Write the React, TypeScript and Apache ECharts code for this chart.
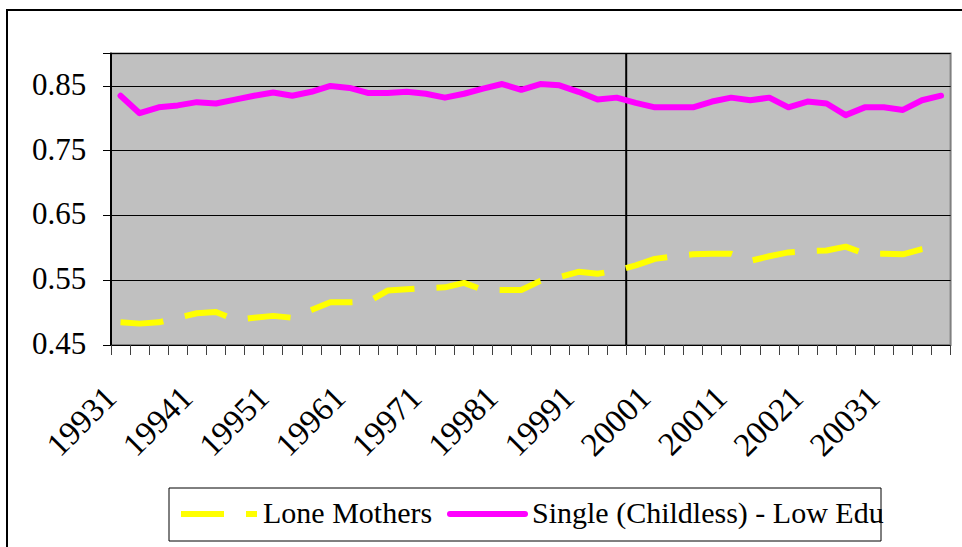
import React, { useEffect, useRef } from "react";
import * as echarts from "echarts";

const years = [1993, 1994, 1995, 1996, 1997, 1998, 1999, 2000, 2001, 2002, 2003];
const quarters = [1, 2, 3, 4];
const categories: string[] = years.flatMap((y) => quarters.map((q) => `${y}${q}`));
const xTickLabels: string[] = categories.filter((_, i) => i % 4 === 0);

const loneMothers = [
  0.485, 0.483, 0.485, 0.492, 0.499, 0.501, 0.489, 0.492, 0.495, 0.492, 0.504,
  0.516, 0.516, 0.517, 0.534, 0.536, 0.538, 0.539, 0.546, 0.535, 0.535, 0.535,
  0.549, 0.555, 0.563, 0.560, 0.565, 0.573, 0.583, 0.587, 0.590, 0.591, 0.591,
  0.580, 0.587, 0.593, 0.595, 0.596, 0.602, 0.591, 0.591, 0.590, 0.598, 0.603,
];

const singleLowEdu = [
  0.835, 0.808, 0.817, 0.820, 0.825, 0.823, 0.829, 0.835, 0.840, 0.835, 0.841,
  0.850, 0.847, 0.839, 0.839, 0.841, 0.838, 0.832, 0.838, 0.846, 0.853, 0.844,
  0.853, 0.851, 0.841, 0.829, 0.832, 0.824, 0.817, 0.817, 0.817, 0.826, 0.832,
  0.828, 0.832, 0.817, 0.826, 0.823, 0.805, 0.817, 0.817, 0.813, 0.828, 0.835,
];

const yTickLabels = ["0.45", "0.55", "0.65", "0.75", "0.85"];
const yTicks = { min: 0.45, max: 0.9, interval: 0.1 };
const axisCrossAt = 27; // value axis crosses between 19993 and 19994

const seriesNames = ["Lone Mothers", "Single (Childless) - Low Edu"];
const seriesColors = ["#ffff00", "#ff00ff"];

const SERIF = "Liberation Serif";

export default function App() {
  const ref = useRef<HTMLDivElement>(null);
  useEffect(() => {
    if (!ref.current) return;
    document.body.style.margin = "0";
    const chart = echarts.init(ref.current, undefined, { renderer: "svg" });
    let disposed = false;

    const render = () => {
      if (disposed) return;
      chart.clear();
      chart.setOption({
        animation: false,
        backgroundColor: "#ffffff",
        textStyle: { fontFamily: SERIF },
        grid: {
          left: 111,
          right: 11.4,
          top: 53.6,
          bottom: 202,
          show: true,
          backgroundColor: "#c0c0c0",
          borderColor: "#808080",
          borderWidth: 2,
        },
        legend: { show: false },
        xAxis: [
          {
            type: "category",
            data: categories,
            boundaryGap: true,
            axisLine: { show: true, lineStyle: { color: "#000", width: 1 } },
            axisTick: { show: true, interval: 0, length: 10, lineStyle: { color: "#404040" } },
            axisLabel: { show: false },
            splitLine: { show: false },
          },
          { type: "value", min: 0, max: categories.length, show: false },
        ],
        yAxis: {
          type: "value",
          min: yTicks.min,
          max: yTicks.max,
          interval: yTicks.interval,
          axisLine: { show: true, lineStyle: { color: "#000", width: 2 } },
          axisTick: { show: true, length: 8, lineStyle: { color: "#000" } },
          axisLabel: { show: false },
          splitLine: { show: true, lineStyle: { color: "#000", width: 1 } },
        },
        series: [
          {
            name: seriesNames[0],
            type: "line",
            data: loneMothers,
            symbol: "none",
            lineStyle: { color: seriesColors[0], width: 6, type: [43, 22] },
            itemStyle: { color: seriesColors[0] },
            z: 3,
          },
          {
            name: seriesNames[1],
            type: "line",
            data: singleLowEdu,
            symbol: "none",
            lineStyle: { color: seriesColors[1], width: 6, cap: "round", join: "round" },
            itemStyle: { color: seriesColors[1] },
            z: 3,
          },
          {
            name: "axisCross",
            type: "line",
            xAxisIndex: 1,
            data: [
              [axisCrossAt, yTicks.min],
              [axisCrossAt, yTicks.max],
            ],
            symbol: "none",
            silent: true,
            lineStyle: { color: "#000", width: 2 },
            z: 2,
          },
        ],
      });

      const toX = (v: any) => chart.convertToPixel({ xAxisIndex: 0 }, v) as unknown as number;
      const toY = (v: number) => chart.convertToPixel({ yAxisIndex: 0 }, v) as unknown as number;
      const plotLeft = chart.convertToPixel({ xAxisIndex: 1 }, 0) as unknown as number;
      const plotBottom = toY(yTicks.min);

      const yLabels = yTickLabels.map((t) => ({
        type: "text",
        left: plotLeft - 25 - 54,
        top: toY(parseFloat(t)) - 17,
        style: { text: t, fontFamily: SERIF, fontSize: 31, fill: "#000" },
      }));

      const xLabels = xTickLabels.map((t) => ({
        type: "text",
        x: toX(t) - 10,
        y: plotBottom + 47,
        rotation: Math.PI / 4,
        style: {
          text: t,
          fontFamily: SERIF,
          fontSize: 33,
          fill: "#000",
          align: "right",
          verticalAlign: "middle",
        },
      }));

      const legendY = 514;
      const legendEls: any[] = [
        {
          type: "rect",
          shape: { x: 169, y: 488, width: 712, height: 53 },
          style: { fill: "#fff", stroke: "#000", lineWidth: 1 },
        },
        {
          type: "line",
          shape: { x1: 181, y1: legendY, x2: 257, y2: legendY },
          style: { stroke: seriesColors[0], lineWidth: 6, lineDash: [43, 22] },
        },
        {
          type: "text",
          left: 263,
          top: legendY - 17,
          style: { text: seriesNames[0], fontFamily: SERIF, fontSize: 30, fill: "#000" },
        },
        {
          type: "line",
          shape: { x1: 450, y1: legendY, x2: 525, y2: legendY },
          style: { stroke: seriesColors[1], lineWidth: 6, lineCap: "round" },
        },
        {
          type: "text",
          left: 532,
          top: legendY - 17,
          style: { text: seriesNames[1], fontFamily: SERIF, fontSize: 30, fill: "#000" },
        },
      ];

      chart.setOption({
        graphic: [
          {
            type: "rect",
            shape: { x: 7, y: 10, width: 1000, height: 600 },
            style: { fill: "none", stroke: "#000", lineWidth: 2 },
            z: -1,
          },
          ...yLabels,
          ...xLabels,
          ...legendEls,
        ],
      });
    };

    render();
    const fonts: any = (document as any).fonts;
    if (fonts && fonts.load) {
      fonts
        .load(`31px "${SERIF}"`, "0.85 Lone Mothers")
        .then(() => render())
        .catch(() => {});
    }
    return () => {
      disposed = true;
      chart.dispose();
    };
  }, []);
  return <div ref={ref} style={{ width: 962, height: 547, fontFamily: SERIF }} />;
}
